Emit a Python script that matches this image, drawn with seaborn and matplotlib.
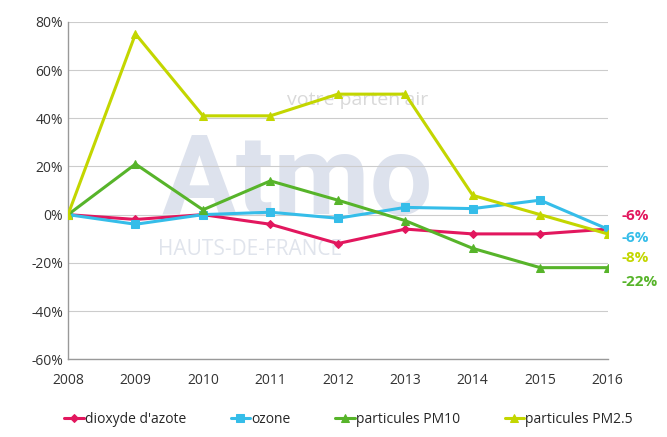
import matplotlib
matplotlib.use("Agg")
import matplotlib.pyplot as plt
import pandas as pd
import seaborn as sns

years = [2008, 2009, 2010, 2011, 2012, 2013, 2014, 2015, 2016]
no2 = [0, -2, 0, -4, -12, -6, -8, -8, -6]
ozone = [0, -4, 0, 1, -1.5, 3, 2.5, 6, -6]
pm10 = [0, 21, 2, 14, 6, -2.5, -14, -22, -22]
pm25 = [0, 75, 41, 41, 50, 50, 8, 0, -8]
series_names = ["dioxyde d'azote", "ozone", "particules PM10", "particules PM2.5"]
# etiquettes de fin de serie, dans l'ordre vertical du graphique
end_series = ["dioxyde d'azote", "ozone", "particules PM2.5", "particules PM10"]
end_labels = ["-6%", "-6%", "-8%", "-22%"]

colors = {"dioxyde d'azote": "#e2175e", "ozone": "#35bde9",
          "particules PM10": "#57b42a", "particules PM2.5": "#c3d600"}
markers = {"dioxyde d'azote": "D", "ozone": "s",
           "particules PM10": "^", "particules PM2.5": "^"}
msizes = {"dioxyde d'azote": 4, "ozone": 6, "particules PM10": 6, "particules PM2.5": 6}

df = pd.DataFrame({"annee": years, series_names[0]: no2, series_names[1]: ozone,
                   series_names[2]: pm10, series_names[3]: pm25})
long = df.melt(id_vars="annee", var_name="polluant", value_name="evolution")

sns.set_style("white")
plt.rcParams["font.family"] = ["Open Sans", "DejaVu Sans"]

fig = plt.figure(figsize=(6.67, 4.37), dpi=100)
ax = fig.add_axes([0.102, 0.178, 0.809, 0.772])

# filigrane du logo
ax.text(2011.4, -9.3, "Atmo", fontsize=80, fontweight="bold", color="#dde2ed",
        ha="center", va="bottom", zorder=0, family="Roboto")
ax.text(2010.7, -14.5, "HAUTS-DE-FRANCE", fontsize=15, color="#e0e4ec",
        ha="center", va="center", zorder=0)
ax.text(2012.3, 44, "votre parten'air", fontsize=14, color="#d9d9d9",
        ha="center", va="bottom", zorder=0)

for name in series_names:
    sub = long[long["polluant"] == name]
    sns.lineplot(data=sub, x="annee", y="evolution", color=colors[name],
                 marker=markers[name], markersize=msizes[name],
                 markeredgecolor=colors[name], linewidth=2.2, ax=ax,
                 label=name, zorder=3)

ax.set_xlim(2008, 2016)
ax.set_ylim(-60, 80)
ax.set_xticks(years)
ax.set_yticks(range(-60, 81, 20))
ax.set_yticklabels([f"{v}%" for v in range(-60, 81, 20)])
ax.set_xlabel("")
ax.set_ylabel("")
ax.tick_params(axis="both", labelsize=10, colors="#333333", length=0)
ax.tick_params(axis="x", length=4, color="#888888", pad=6)
ax.grid(axis="y", color="#cccccc", linewidth=0.8)
for s in ["top", "right"]:
    ax.spines[s].set_visible(False)
for s in ["left", "bottom"]:
    ax.spines[s].set_color("#999999")
    ax.spines[s].set_linewidth(1)

label_y = [-0.5, -9.5, -18, -28]
for name, txt, y in zip(end_series, end_labels, label_y):
    ax.text(2016.2, y, txt, color=colors[name], fontsize=11, fontweight="bold",
            va="center", ha="left", clip_on=False)

ax.legend(loc="upper center", bbox_to_anchor=(0.52, -0.12), ncol=4, frameon=False,
          fontsize=10, handlelength=1.4, handletextpad=0.1, columnspacing=3.2)

fig.savefig("out.png", dpi=100)
